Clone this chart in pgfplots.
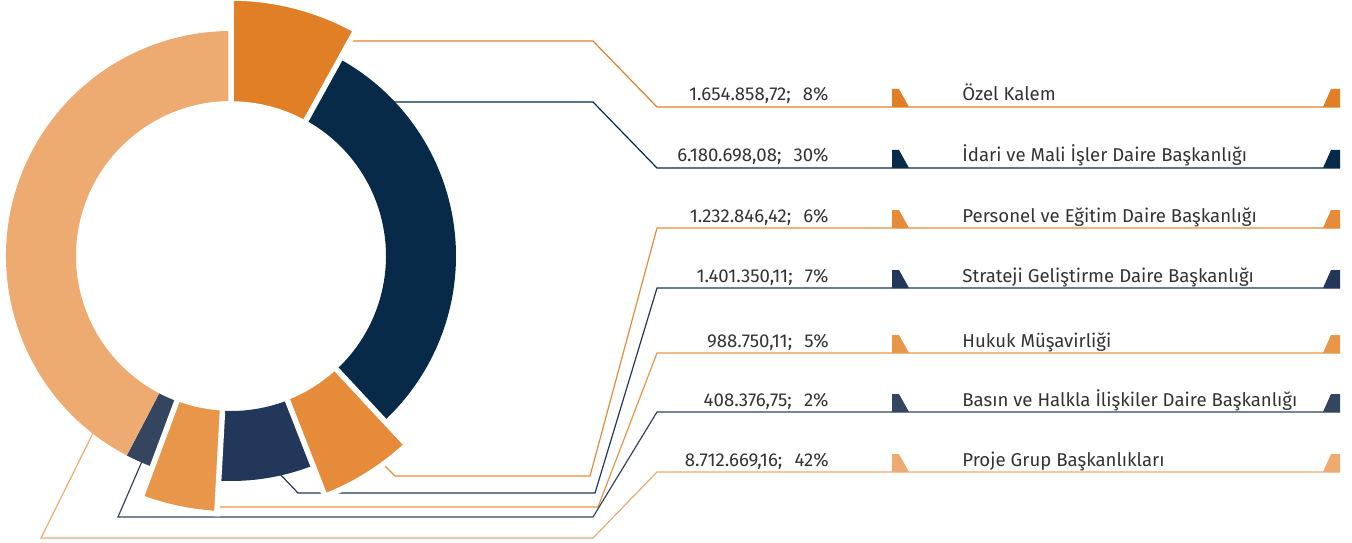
\documentclass[border=0pt]{standalone}
\usepackage{pgfplots}
\pgfplotsset{compat=1.18}
\usepackage{pgfplotstable}
\usepackage{fontspec}
\setmainfont{Fira Sans}

\definecolor{c0}{HTML}{E07F26}
\definecolor{c1}{HTML}{072A49}
\definecolor{c2}{HTML}{E58B3A}
\definecolor{c3}{HTML}{22375A}
\definecolor{c4}{HTML}{E8964A}
\definecolor{c5}{HTML}{33455F}
\definecolor{c6}{HTML}{EDAB72}
\definecolor{txt}{HTML}{333333}

\pgfplotstableread[col sep=semicolon]{
name;value;rin;rout;liney
Özel Kalem;1654858.72;152;258;435
İdari ve Mali İşler Daire Başkanlığı;6180698.08;155;225;374
Personel ve Eğitim Daire Başkanlığı;1232846.42;152;258;314
Strateji Geliştirme Daire Başkanlığı;1401350.11;155;225;254
Hukuk Müşavirliği;988750.11;152;258;189
Basın ve Halkla İlişkiler Daire Başkanlığı;408376.75;155;225;130
Proje Grup Başkanlıkları;8712669.16;155;225;70
}\datatable

\newcommand\setg[2]{\expandafter\xdef\csname #1\endcsname{#2}}
\newcommand\A[2]{\csname #1#2\endcsname}
\newcommand\fpuparse[1]{\begingroup
  \pgfkeys{/pgf/fpu=true,/pgf/fpu/output format=fixed}%
  \pgfmathparse{#1}\xdef\fpres{\pgfmathresult}\endgroup}

\gdef\total{0}
\pgfplotsforeachungrouped \i in {0,1,2,3,4,5,6}{%
  \pgfplotstablegetelem{\i}{value}\of\datatable
  \fpuparse{\total+\pgfplotsretval}\xdef\total{\fpres}%
}
\gdef\cum{0}
\pgfplotsforeachungrouped \i in {0,1,2,3,4,5,6}{%
  \pgfplotstablegetelem{\i}{value}\of\datatable
  \let\curv\pgfplotsretval
  \setg{val\i}{\curv}%
  \fpuparse{90-360*\cum/\total}\setg{aS\i}{\fpres}%
  \fpuparse{\cum+\curv}\xdef\cum{\fpres}%
  \fpuparse{90-360*\cum/\total}\setg{aE\i}{\fpres}%
  \fpuparse{round(100*\curv/\total)}\setg{pc\i}{\fpres}%
  \pgfplotstablegetelem{\i}{rin}\of\datatable \setg{ri\i}{\pgfplotsretval}%
  \pgfplotstablegetelem{\i}{rout}\of\datatable \setg{ro\i}{\pgfplotsretval}%
  \pgfplotstablegetelem{\i}{liney}\of\datatable \setg{ly\i}{\pgfplotsretval}%
  \pgfplotstablegetelem{\i}{name}\of\datatable
  \global\expandafter\let\csname nm\i\endcsname\pgfplotsretval
}

\newcommand\seg[2]{%
  \fill[c#1,#2]
    (axis cs:{231+\A{ri}{#1}*cos(\A{aS}{#1})},{286+\A{ri}{#1}*sin(\A{aS}{#1})})
    -- (axis cs:{231+\A{ro}{#1}*cos(\A{aS}{#1})},{286+\A{ro}{#1}*sin(\A{aS}{#1})})
    arc[start angle=\A{aS}{#1}, end angle=\A{aE}{#1}, radius=\A{ro}{#1}*0.5pt]
    -- (axis cs:{231+\A{ri}{#1}*cos(\A{aE}{#1})},{286+\A{ri}{#1}*sin(\A{aE}{#1})})
    arc[start angle=\A{aE}{#1}, end angle=\A{aS}{#1}, radius=\A{ri}{#1}*0.5pt]
    -- cycle;}

\begin{document}
\begin{tikzpicture}
\begin{axis}[hide axis, scale only axis, x=0.5pt, y=0.5pt,
  xmin=0, xmax=1352, ymin=0, ymax=542, clip=false]
\coordinate (bbsw) at (axis cs:0,0);
\coordinate (bbne) at (axis cs:1352,542);
% leader lines
\tikzset{lead/.style={line width=0.6pt}}
\draw[c0,lead] (axis cs:335,501) -- (axis cs:593,501) -- (axis cs:657,435) -- (axis cs:1340,435);
\draw[c1,lead] (axis cs:385,440) -- (axis cs:593,440) -- (axis cs:657,374) -- (axis cs:1340,374);
\draw[c2,lead] (axis cs:372,89) -- (axis cs:395,66) -- (axis cs:590,66) -- (axis cs:657,314) -- (axis cs:1340,314);
\draw[c3,lead] (axis cs:278,70) -- (axis cs:298,49) -- (axis cs:595,49) -- (axis cs:657,254) -- (axis cs:1340,254);
\draw[c4,lead] (axis cs:200,35) -- (axis cs:598,35) -- (axis cs:657,189) -- (axis cs:1340,189);
\draw[c5,lead] (axis cs:146,90) -- (axis cs:118,25) -- (axis cs:593,25) -- (axis cs:657,130) -- (axis cs:1340,130);
\draw[c6,lead] (axis cs:97,117) -- (axis cs:41,4) -- (axis cs:593,4) -- (axis cs:657,70) -- (axis cs:1340,70);
% donut segments
\pgfplotsinvokeforeach{1,3,5,6}{\seg{#1}{}}
\pgfplotsinvokeforeach{0,2,4}{\seg{#1}{draw=white,line width=2.75pt}}
% rows
\pgfplotsinvokeforeach{0,...,6}{%
  \fill[c#1] (axis cs:892,\A{ly}{#1}) -- (axis cs:892,{\A{ly}{#1}+18}) -- (axis cs:899,{\A{ly}{#1}+18}) -- (axis cs:909,\A{ly}{#1}) -- cycle;
  \fill[c#1] (axis cs:1323,\A{ly}{#1}) -- (axis cs:1331,{\A{ly}{#1}+18}) -- (axis cs:1340,{\A{ly}{#1}+18}) -- (axis cs:1340,\A{ly}{#1}) -- cycle;
  \node[anchor=base east, inner sep=0pt, text=txt, font=\fontsize{9.3pt}{10pt}\selectfont]
    at (axis cs:829,{\A{ly}{#1}+6})
    {\pgfmathprintnumber[assume math mode=true,fixed,fixed zerofill,precision=2,use comma,1000 sep={.}]{\A{val}{#1}};\hspace{0.65em}\pgfmathprintnumber[assume math mode=true,fixed,precision=0]{\A{pc}{#1}}\%};
  \node[anchor=base west, inner sep=0pt, text=txt, font=\fontsize{9.3pt}{10pt}\selectfont]
    at (axis cs:962,{\A{ly}{#1}+6}) {\A{nm}{#1}};
}
\end{axis}
\pgfresetboundingbox
\path[use as bounding box] (bbsw) rectangle (bbne);
\end{tikzpicture}
\end{document}
